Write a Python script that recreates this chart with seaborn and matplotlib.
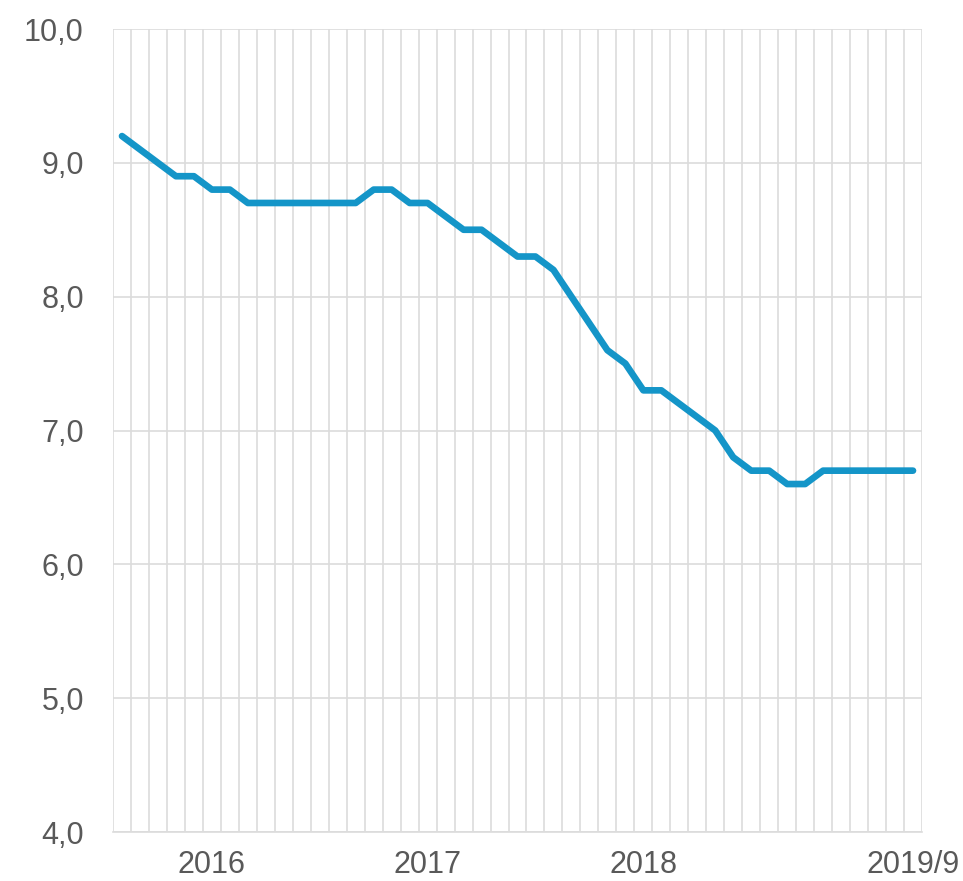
import numpy as np
import pandas as pd
import matplotlib
matplotlib.use("Agg")
import matplotlib.pyplot as plt
import seaborn as sns

# monthly series, 2016/1 .. 2019/9
months = pd.period_range("2016-01", "2019-09", freq="M").astype(str)
values = [9.2, 9.1, 9.0, 8.9, 8.9, 8.8, 8.8, 8.7, 8.7, 8.7,
          8.7, 8.7, 8.7, 8.7, 8.8, 8.8, 8.7, 8.7, 8.6, 8.5,
          8.5, 8.4, 8.3, 8.3, 8.2, 8.0, 7.8, 7.6, 7.5, 7.3,
          7.3, 7.2, 7.1, 7.0, 6.8, 6.7, 6.7, 6.6, 6.6, 6.7,
          6.7, 6.7, 6.7, 6.7, 6.7]
tick_labels = ["2016", "2017", "2018", "2019/9"]
tick_months = ["2016-06", "2017-06", "2018-06", "2019-09"]

df = pd.DataFrame({"month": months, "value": values})
df["idx"] = np.arange(len(df))

sns.set_theme(style="white")
plt.rcParams["font.family"] = ["Liberation Sans", "DejaVu Sans"]

fig = plt.figure(figsize=(9.63, 8.81), dpi=100)
ax = fig.add_axes([113/963, 49/881, 809/963, 803/881])

grid_c = "#dcdcdc"
txt_c = "#595959"

sns.lineplot(data=df, x="idx", y="value", ax=ax, color="#1495c8",
             linewidth=4.8, solid_joinstyle="round", solid_capstyle="round")

ax.set_xlim(-0.5, len(df) - 0.5)
ax.set_ylim(4, 10)
ax.set_yticks(np.arange(4, 10.1, 1))
ax.set_yticklabels([f"{v:.1f}".replace(".", ",") for v in np.arange(4, 10.1, 1)])

pos = [list(months).index(m) for m in tick_months]
ax.set_xticks(pos)
ax.set_xticklabels(tick_labels)
ax.set_xticks(np.arange(-0.5, len(df), 1), minor=True)

ax.grid(axis="y", which="major", color=grid_c, linewidth=1.2)
ax.grid(axis="x", which="minor", color=grid_c, linewidth=1.2)
ax.grid(axis="x", which="major", visible=False)
ax.set_axisbelow(True)

for s in ["top", "right", "left"]:
    ax.spines[s].set_visible(False)
ax.spines["bottom"].set_color(grid_c)
ax.spines["bottom"].set_linewidth(1.2)

ax.tick_params(axis="both", which="both", length=0, labelsize=22, labelcolor=txt_c)
ax.tick_params(axis="y", pad=21)
ax.tick_params(axis="x", pad=13)
ax.set_xlabel("")
ax.set_ylabel("")

fig.savefig("out.png", dpi=100)
